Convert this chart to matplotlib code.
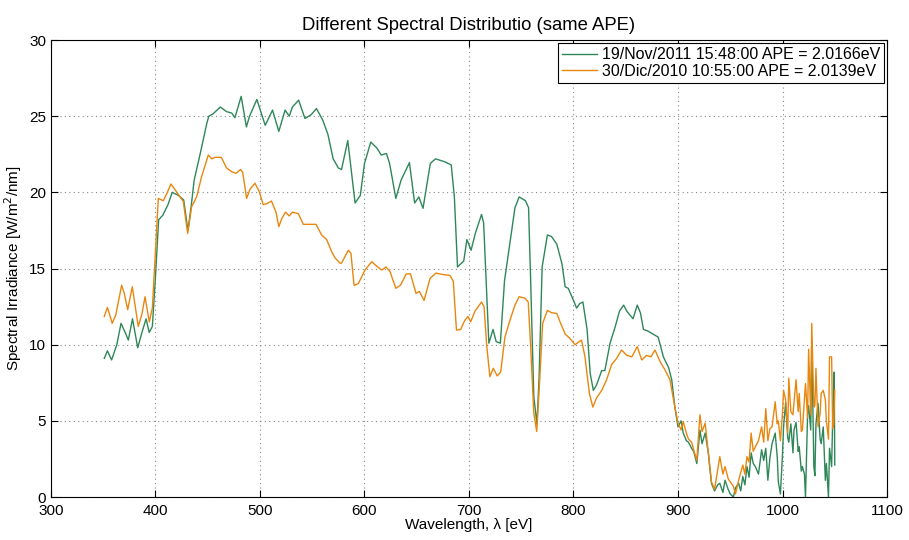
import matplotlib
matplotlib.use("Agg")
import matplotlib.pyplot as plt

## Data

wl_nov = [351, 354, 358, 363, 367, 371, 374, 378, 383, 387, 391, 394, 397, 400, 403, 407, 412, 416, 422, 427,
          431, 434, 437, 443, 449, 451, 455, 462, 468, 473, 476, 482, 487, 490, 497, 505, 512, 518, 524, 528,
          531, 537, 543, 549, 554, 560, 565, 570, 575, 578, 584, 591, 596, 600, 606, 612, 616, 621, 624, 630,
          635, 643, 648, 652, 656, 663, 668, 677, 683, 686, 689, 695, 698, 702, 706, 712, 714, 719, 723, 726,
          730, 734, 739, 744, 748, 754, 757, 759, 762, 765, 767, 770, 775, 779, 784, 789, 792, 795, 800, 803,
          806, 809, 813, 816, 819, 822, 827, 830, 835, 840, 844, 848, 851, 854, 857, 861, 864, 867, 871, 876,
          881, 886, 891, 894, 897, 900,
          903, 905, 908, 910, 913, 915, 918, 921, 923, 926, 929, 932, 935, 938, 940, 943, 945, 948, 950, 953,
          955, 958, 960, 962, 964, 966, 968, 970, 972, 974, 977, 980, 982, 984, 986, 988, 990, 993, 995, 996,
          998, 1000, 1001, 1003, 1005, 1006, 1008, 1010, 1011, 1013, 1015, 1016, 1018, 1019, 1021, 1022, 1024,
          1025, 1027, 1028, 1030, 1031, 1032, 1034, 1036, 1037, 1039, 1041, 1042, 1044, 1045, 1047, 1048, 1049,
          1049.5, 1050]
irr_nov = [9.1, 9.6, 9.0, 10.0, 11.4, 10.8, 10.3, 11.7, 9.8, 10.8, 11.7, 10.8, 11.2, 14.5, 18.2, 18.5, 19.2, 20.0, 19.8, 19.5,
           17.5, 19.0, 20.8, 22.6, 24.5, 25.0, 25.15, 25.6, 25.3, 25.2, 24.9, 26.3, 24.3, 25.0, 26.1, 24.4, 25.4, 24.0, 25.4, 25.0,
           25.6, 26.05, 24.85, 25.1, 25.5, 24.75, 23.8, 22.2, 21.6, 21.5, 23.4, 19.3, 19.8, 21.9, 23.3, 22.9, 22.45, 22.55, 21.9, 19.6,
           20.8, 21.95, 19.3, 19.7, 18.95, 21.9, 22.2, 22.0, 21.8, 19.7, 15.1, 15.5, 16.9, 16.2, 17.3, 18.55, 18.0, 10.1, 11.0, 10.2,
           10.1, 14.2, 16.6, 19.0, 19.7, 19.45, 19.0, 14.2, 6.6, 4.8, 7.7, 15.1, 17.2, 17.1, 16.6, 15.3, 13.8, 13.7, 12.9, 12.4,
           12.7, 12.8, 11.0, 8.1, 7.0, 7.35, 8.3, 8.3, 10.1, 11.2, 12.2, 12.6, 12.2, 11.95, 11.7, 12.6, 12.1, 11.0, 10.9, 10.7,
           10.5, 9.2, 8.5, 7.7, 5.9, 4.6,
           5.0, 4.2, 3.7, 3.6, 3.2, 3.0, 2.2, 4.4, 3.5, 4.2, 2.9, 0.9, 0.4, 0.8, 0.9, 0.3, 1.1, 0.5, 0.2, 0.0,
           0.6, 0.9, 0.4, 1.35, 0.8, 2.0, 1.3, 2.9, 2.2, 2.0, 1.5, 3.1, 2.4, 3.2, 1.1, 2.6, 3.5, 4.2, 2.6, 1.0,
           0.2, 2.8, 4.6, 6.2, 3.9, 3.6, 4.8, 2.9, 4.4, 4.9, 3.0, 3.3, 1.7, 2.0, 1.5, 0.0, 5.4,
           6.0, 4.4, 10.3, 2.0, 1.4, 4.8, 6.15, 3.8, 3.5, 4.6, 1.1, 2.2, 0.0, 3.2, 2.0, 5.0, 5.5,
           8.2, 2.1]

wl_dic = [351, 354, 358.6, 362, 367.6, 370, 373.4, 377.8, 383.5, 387, 390, 394, 397, 400.5, 402.7, 407.5, 410.7, 414.8, 420, 426.6,
          430.8, 434.6, 439.4, 444, 450.5, 453.8, 457, 463, 468, 473, 477, 481.5, 483.5, 487.2, 490.4, 495.2, 499.3, 503, 506.4, 511,
          515.3, 518, 521, 524.4, 528, 531, 536.7, 541.4, 546.2, 553.6, 559, 563.8, 568.6, 571.8, 576.6, 578, 584.5, 587, 590, 594,
          600.5, 606.9, 611.7, 616.5, 620.6, 624.4, 630, 634.4, 640, 644, 649.3, 652.5, 657, 662.7, 668.4, 675.4, 681.8, 685, 688, 692,
          696, 699, 701.6, 705.7, 712, 714.4, 717, 720, 723.3, 727, 730.3, 734.4, 739.2, 744, 748, 753.6, 756.7, 759, 762, 764.8,
          767.3, 770.5, 775, 779, 784, 787.7, 792, 796.7, 801.4, 807.7, 811, 815.2, 818.5, 822, 827, 831.7, 836.5, 841.3, 846, 851,
          855.8, 861, 865.3, 870, 874, 878, 882.8, 887.5, 892.3, 897, 900,
          903, 905, 908, 910, 913, 915, 918, 921, 923, 926, 929, 932, 935, 938, 940, 943, 945, 948, 950, 953,
          955, 958, 960, 962, 964, 966, 968, 970, 972, 974, 977, 980, 982, 984, 986, 988, 990, 993, 995, 996,
          998, 1000, 1001, 1003, 1005, 1006, 1008, 1010, 1011, 1013, 1015, 1016, 1018, 1019, 1021, 1022, 1024,
          1025, 1027, 1028, 1030, 1031, 1032, 1034, 1036, 1037, 1039, 1041, 1042, 1044, 1045, 1047, 1048, 1049, 1050]
irr_dic = [11.85, 12.45, 11.4, 11.95, 13.9, 13.4, 12.3, 13.8, 11.2, 12.0, 13.15, 11.5, 12.4, 16.9, 19.6, 19.45, 19.9, 20.55, 20.05, 19.4,
           17.3, 19.06, 19.7, 21.0, 22.45, 22.2, 22.3, 22.3, 21.6, 21.35, 21.25, 21.5, 21.3, 19.6, 20.2, 20.6, 20.05, 19.2, 19.25, 19.43,
           18.7, 17.75, 18.3, 18.7, 18.45, 18.7, 18.6, 17.9, 17.9, 17.9, 17.2, 16.9, 16.1, 15.7, 15.35, 15.35, 16.2, 16.0, 13.9, 14.0,
           14.9, 15.45, 15.15, 14.9, 15.1, 14.8, 13.7, 13.9, 14.65, 14.65, 13.37, 13.5, 12.9, 14.35, 14.7, 14.6, 14.55, 14.15, 10.96, 11.0,
           11.6, 11.85, 11.5, 12.2, 12.8, 12.5, 9.9, 7.9, 8.45, 7.95, 8.2, 10.5, 11.6, 12.6, 13.15, 13.05, 12.8, 9.9, 5.5, 4.3,
           7.25, 11.4, 12.25, 12.1, 12.05, 11.4, 10.7, 10.4, 10.0, 10.3, 9.2, 6.8, 5.9, 6.5, 7.0, 7.7, 8.7, 9.1, 9.65, 9.3,
           9.2, 9.87, 9.0, 9.3, 9.2, 9.65, 8.9, 8.35, 7.7, 5.9, 4.85,
           4.4, 4.95, 4.2, 3.8, 3.6, 3.1, 2.4, 5.4, 4.3, 4.85, 2.9, 1.0, 0.5, 1.8, 2.65, 1.5, 2.0, 1.2, 1.0, 0.7,
           0.2, 1.1, 1.6, 2.1, 1.5, 2.65, 2.3, 4.2, 3.0, 3.3, 3.7, 4.6, 3.6, 5.8, 3.7, 4.5, 4.6, 6.25, 4.8, 5.0,
           3.7, 5.5, 7.0, 6.4, 4.2, 7.8, 5.6, 5.4, 6.2, 7.7, 5.6, 6.8, 4.3, 4.4, 6.5, 7.45, 5.2,
           9.7, 5.4, 11.4, 5.9, 6.0, 8.45, 4.6, 5.5, 6.8, 7.0, 6.4, 5.0, 3.8, 9.2, 9.2, 4.5, 4.8, 7.0]

label_nov = "19/Nov/2011 15:48:00 APE = 2.0166eV"
label_dic = "30/Dic/2010 10:55:00 APE = 2.0139eV"

plt.rcParams['font.family'] = ['Liberation Sans', 'DejaVu Sans']

fig = plt.figure(figsize=(9.09, 5.40), dpi=100)
ax = fig.add_axes([0.0561, 0.0796, 0.9197, 0.8463])

ax.plot(wl_nov, irr_nov, color='#2e8759', lw=1.0, label=label_nov)
ax.plot(wl_dic, irr_dic, color='#e8870e', lw=1.0, label=label_dic)

ax.set_xlim(300, 1100)
ax.set_ylim(0, 30)
ax.set_xticks(range(300, 1101, 100))
ax.set_yticks(range(0, 31, 5))
ax.tick_params(direction='in', length=5, labelsize=11, top=True, right=True)
ax.tick_params(axis='x', pad=5)
ax.grid(True, linestyle=(0, (1, 3)), color='#888888', lw=0.8)
for s in ax.spines.values():
    s.set_linewidth(0.8)

ax.set_title("Different Spectral Distributio (same APE)", fontsize=13.3, pad=7)
ax.set_xlabel("Wavelength, \u03bb [eV]", fontsize=11, labelpad=0)
ax.set_ylabel("Spectral Irradiance [W/m$^2$/nm]", fontsize=11, labelpad=4)

leg = ax.legend(loc='upper right', fontsize=11.5, fancybox=False, framealpha=1,
                edgecolor='black', borderaxespad=0.2, handlelength=2.2,
                borderpad=0.25, labelspacing=0.1, handletextpad=0.3)
leg.get_frame().set_linewidth(0.8)

fig.savefig("out.png", dpi=100)
